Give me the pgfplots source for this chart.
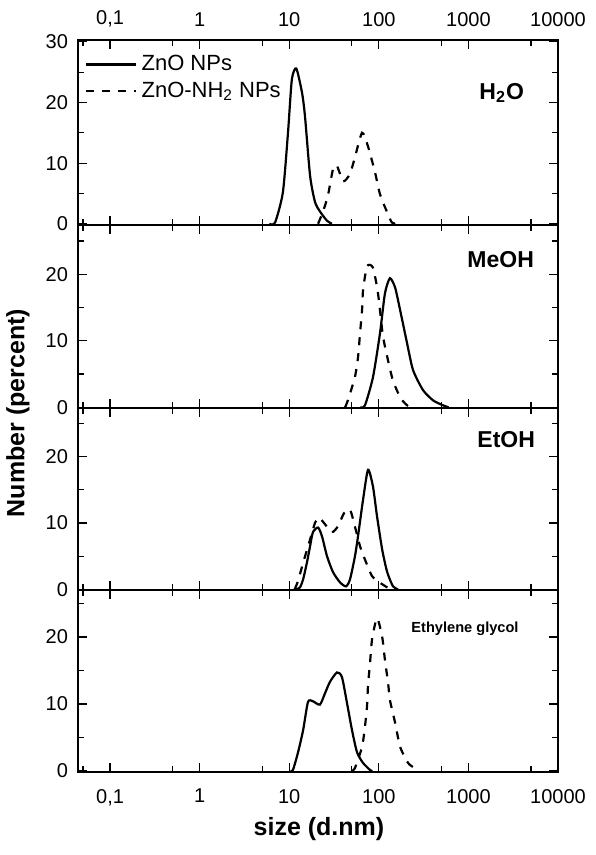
\documentclass[border=0pt]{standalone}
\usepackage{fontspec}
\setmainfont{Liberation Sans}
\usepackage{pgfplots}
\pgfplotsset{compat=1.18}

\pgfplotsset{
  every axis/.append style={
    scale only axis, width=240pt,
    xmin=0.0439, xmax=10000,
    xtick={0.1,1,10,100,1000,10000},
    minor xtick={0.05,0.5,5,50,500,5000},
    ytick={0,10,20,30},
    yticklabels={0,10,20,30},
    minor ytick={5,15,25},
    axis line style={line width=0.8pt},
    every tick/.style={black, line width=0.6pt},
    tick label style={font=\fontsize{10}{12}\selectfont},
    yticklabel style={xshift=-1.5pt},
  },
}
\pgfplotsset{legend image code/.code={\draw[#1] (0pt,0pt) -- (25pt,0pt);}}
\tikzset{
  zno/.style={black, line width=1.1pt, smooth, tension=0.4},
  nh/.style={black, line width=1.1pt, dash pattern=on 4pt off 4pt, smooth, tension=0.4},
}

\begin{document}
\begin{tikzpicture}
\useasboundingbox (0,0) rectangle (297.5pt,427.5pt);

% H2O
\begin{axis}[xmode=log, at={(39pt,407.5pt)}, anchor=north west, height=92.5pt, ymin=-0.2, ymax=30.3,
  xticklabel pos=upper, xtick pos=both,
  xticklabels={{0,1},1,10,100,1000,10000},
  xticklabel style={yshift=3pt},
  legend style={at={(0.0,1.0)}, anchor=north west, xshift=1.5pt, yshift=-3.5pt, draw=none, fill=none,
    font=\fontsize{11}{13}\selectfont, row sep=0pt, inner xsep=2pt, inner ysep=2pt},
  legend cell align=left,
]
\addplot[zno] coordinates {(6.0,0) (6.95,0.2) (8.5,5.2) (9.7,15.1) (10.7,23.8) (12.0,25.6) (13.9,21.6) (15.0,17.7) (17.1,7.9) (19.4,3.6) (22.1,2.0) (26.4,0.5) (30,0)};
\addplot[nh] coordinates {(21,0) (23.8,2) (27,4.6) (30.8,9) (34,9.6) (40,7) (47.5,8.2) (54,10.9) (65,15) (75.6,12.8) (90.6,8.5) (103,4.9) (123,2) (140,0.2) (160,0)};
\legend{ZnO NPs, ZnO-NH\textsubscript{2} NPs}
\end{axis}

% MeOH
\begin{axis}[xmode=log, at={(39pt,315pt)}, anchor=north west, height=91.5pt, ymin=-0.1, ymax=27.4, xticklabels={}]
\addplot[zno] coordinates {(62,0) (70,0.3) (86,4.5) (103,11.1) (117,17.1) (133,19.4) (152,18) (173,14.6) (207,9.6) (241,5.6) (311,2.6) (403,1.05) (521,0.3) (600,0)};
\addplot[nh] coordinates {(42,0) (45,1) (54,4.5) (58.6,7.5) (61.7,11.1) (65,14.6) (66.7,17.6) (73.9,21.2) (86,21) (98,17.1) (111,10.8) (127,7) (144,4) (173,1.5) (196,0.6) (220,0)};
\end{axis}

% EtOH
\begin{axis}[xmode=log, at={(39pt,223.5pt)}, anchor=north west, height=91pt, ymin=-0.1, ymax=27.3, xticklabels={}]
\addplot[zno] coordinates {(12,0) (13.2,0.3) (14.3,1.5) (15.8,4.1) (17.1,6.5) (18.4,8.6) (21,9.3) (23.2,8) (26.4,5) (30.8,2.6) (36.9,1.05) (43,0.45) (47.7,1.5) (54.2,5) (58.6,8) (66.7,13.5) (75.8,18) (86,15.5) (95.5,11) (109,6) (124,2.6) (144,0.45) (164,0)};
\addplot[nh] coordinates {(11.5,0) (12.5,1.2) (14.3,4) (17.1,7.5) (19.4,10) (21.5,10.8) (25.1,9.8) (30,8.6) (35,9.5) (41,11.5) (47.7,12) (54,9.5) (61.7,6.5) (70,4.5) (84,2) (103,1) (124,0.3) (140,0)};
\end{axis}

% Ethylene glycol
\begin{axis}[xmode=log, at={(39pt,132.5pt)}, anchor=north west, height=91pt, ymin=-0.15, ymax=27,
  xticklabel pos=lower, xtick pos=both,
  xticklabels={{0,1},1,10,100,1000,10000},
  xticklabel style={yshift=-5pt},
]
\addplot[zno] coordinates {(10.3,0) (11,0.15) (12.5,2.7) (14.3,6.1) (16.2,10.3) (18.4,10.4) (22,9.9) (25.1,11.6) (28.5,13.3) (34.1,14.7) (38.8,14) (44.2,10.1) (50.2,6.1) (57.1,2.8) (66.7,1.2) (79.8,0.15) (85,0)};
\addplot[nh] coordinates {(50,0) (54,0.4) (65,3.6) (70,6.6) (73.8,9.6) (75.8,12.8) (79.8,16.1) (84,19.6) (95.5,22.8) (109,20) (117,16.6) (127,13.1) (133,10.6) (152,7.2) (173,3.6) (212,1.2) (254,0.4) (280,0)};
\end{axis}

\node[anchor=east, font=\fontsize{11.5}{13}\selectfont\bfseries] at (265.5pt,381pt) {H\textsubscript{2}O};
\node[anchor=east, font=\fontsize{11.5}{13}\selectfont\bfseries] at (270.5pt,297.5pt) {MeOH};
\node[anchor=east, font=\fontsize{11.5}{13}\selectfont\bfseries] at (271pt,207.5pt) {EtOH};
\node[font=\fontsize{7.3}{9}\selectfont\bfseries] at (232.5pt,113pt) {Ethylene glycol};
\node[rotate=90, font=\fontsize{12.5}{14}\selectfont\bfseries] at (9pt,221pt) {Number (percent)};
\node[font=\fontsize{12.5}{14}\selectfont\bfseries] at (159.5pt,13pt) {size (d.nm)};
\end{tikzpicture}
\end{document}
